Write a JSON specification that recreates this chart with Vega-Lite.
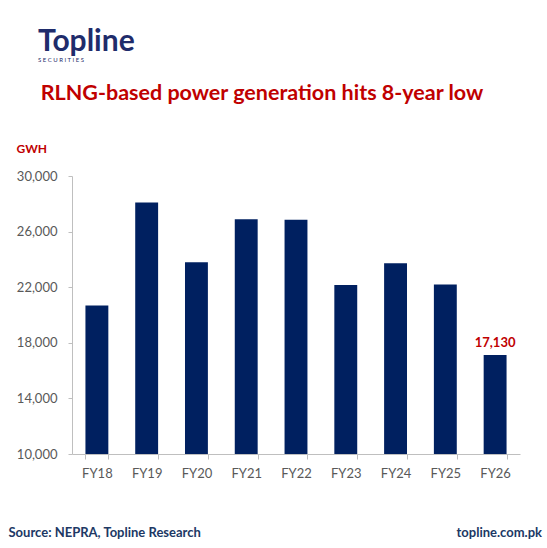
{
  "$schema": "https://vega.github.io/schema/vega-lite/v6.json",
  "background": "white",
  "padding": {"left": 8, "top": 26, "right": 5, "bottom": 5},
  "title": {
    "text": "Topline",
    "subtitle": "\u2002\u2002\u2002\u2002\u2002\u2002\u2002\u2002\u2002\u2002S E C U R I T I E S",
    "anchor": "start",
    "dx": 30,
    "font": "Lato",
    "fontSize": 30,
    "fontWeight": "bold",
    "color": "#1F2C6B",
    "subtitleFont": "Lato",
    "subtitleFontSize": 6,
    "subtitleColor": "#1F2C6B",
    "subtitlePadding": 0,
    "offset": 20
  },
  "config": {
    "view": {"stroke": null},
    "concat": {"spacing": 0},
    "axis": {
      "labelFont": "Lato",
      "labelFontSize": 13,
      "labelColor": "#595959",
      "domainColor": "#BFBFBF",
      "tickColor": "#BFBFBF",
      "grid": false
    }
  },
  "vconcat": [
    {
      "title": {
        "text": "topline.com.pk",
        "orient": "bottom",
        "anchor": "end",
        "dx": 22,
        "offset": -12,
        "font": "Lato",
        "fontSize": 13,
        "fontWeight": "bold",
        "color": "#203864"
      },
      "vconcat": [
        {
          "width": 448,
          "height": 278,
          "title": {
            "text": "RLNG-based power generation hits 8-year low",
            "anchor": "middle",
            "dx": -34,
            "font": "Lato",
            "fontSize": 21.5,
            "fontWeight": "bold",
            "color": "#C00000",
            "offset": 38
          },
          "data": {
            "values": [
              {"fy": "FY18", "gwh": 20680},
              {"fy": "FY19", "gwh": 28100},
              {"fy": "FY20", "gwh": 23800},
              {"fy": "FY21", "gwh": 26880},
              {"fy": "FY22", "gwh": 26850},
              {"fy": "FY23", "gwh": 22150},
              {"fy": "FY24", "gwh": 23730},
              {"fy": "FY25", "gwh": 22200},
              {"fy": "FY26", "gwh": 17130}
            ]
          },
          "encoding": {
            "x": {
              "field": "fy",
              "type": "ordinal",
              "sort": null,
              "scale": {"paddingInner": 0.54, "paddingOuter": 0.27},
              "axis": {
                "labelAngle": 0,
                "tickBand": "extent",
                "tickSize": 5,
                "labelPadding": 8,
                "title": "Source: NEPRA,  Topline Research",
                "titleAnchor": "start",
                "titleAlign": "left",
                "titleBaseline": "middle",
                "titleX": -64,
                "titleY": 78,
                "titleFont": "Lato",
                "titleFontSize": 13,
                "titleFontWeight": "bold",
                "titleColor": "#203864"
              }
            },
            "y": {
              "field": "gwh",
              "type": "quantitative",
              "scale": {"domain": [10000, 30000], "nice": false, "zero": false},
              "axis": {
                "values": [10000, 14000, 18000, 22000, 26000, 30000],
                "format": ",.0f",
                "tickSize": 4,
                "labelPadding": 11,
                "title": "GWH",
                "titleAngle": 0,
                "titleAlign": "left",
                "titleBaseline": "middle",
                "titleX": -56,
                "titleY": -28,
                "titleFont": "Lato",
                "titleFontSize": 12,
                "titleFontWeight": "bold",
                "titleColor": "#C00000"
              }
            }
          },
          "layer": [
            {"mark": {"type": "bar", "color": "#002060", "clip": true}},
            {
              "transform": [{"filter": "datum.fy === 'FY26'"}],
              "mark": {
                "type": "text",
                "dy": -12,
                "font": "Lato",
                "fontSize": 13,
                "fontWeight": "bold",
                "color": "#C00000"
              },
              "encoding": {"text": {"field": "gwh", "format": ",.0f"}}
            }
          ]
        }
      ]
    }
  ]
}
